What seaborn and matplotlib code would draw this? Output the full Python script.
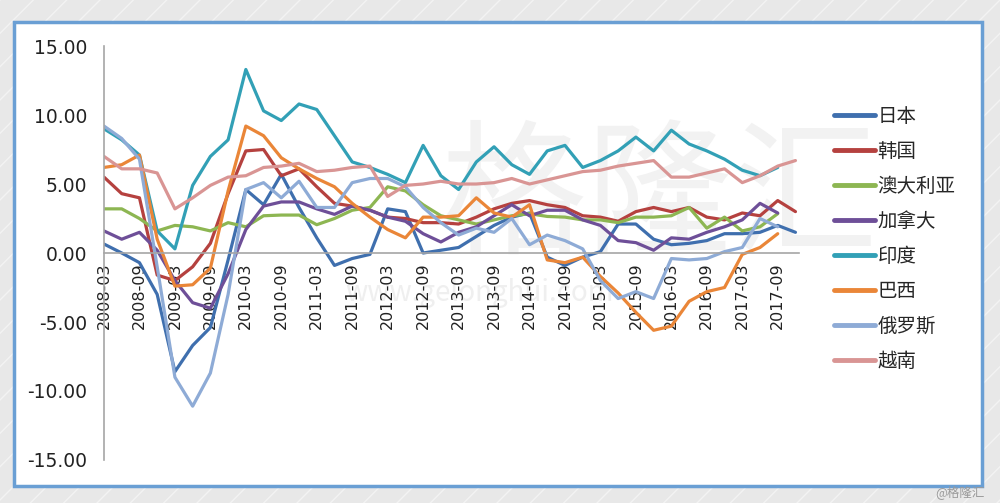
import numpy as np
import pandas as pd
import matplotlib
matplotlib.use("Agg")
import matplotlib.pyplot as plt
from matplotlib.patches import Rectangle
import seaborn as sns

nan = np.nan

quarters = [f"{y}-{m:02d}" for y in range(2008, 2018) for m in (3, 6, 9, 12)]
countries = ["日本", "韩国", "澳大利亚", "加拿大", "印度", "巴西", "俄罗斯", "越南"]
colors = ["#3f6fae", "#b5413f", "#8db652", "#6e4f98", "#32a0b6", "#ea8638", "#8eabd6", "#d99594"]

japan = [0.65, 0.0, -0.7, -3.0, -8.6, -6.7, -5.4, -0.5, 4.6, 3.5,
         5.7, 3.3, 1.1, -0.9, -0.4, -0.1, 3.2, 3.0, 0.0, 0.2,
         0.4, 1.2, 2.0, 2.6, 2.9, -0.3, -0.9, -0.3, 0.1, 2.1,
         2.1, 1.0, 0.6, 0.7, 0.9, 1.4, 1.4, 1.5, 2.0, 1.5]
korea = [5.5, 4.3, 4.0, -1.6, -2.0, -1.0, 0.7, 4.3, 7.4, 7.5,
         5.6, 6.1, 4.8, 3.6, 3.4, 3.1, 2.6, 2.5, 2.2, 2.2,
         2.1, 2.6, 3.2, 3.6, 3.8, 3.5, 3.3, 2.7, 2.6, 2.3,
         3.0, 3.3, 3.0, 3.3, 2.6, 2.4, 2.9, 2.7, 3.8, 3.0]
australia = [3.2, 3.2, 2.5, 1.6, 2.0, 1.9, 1.6, 2.2, 1.9, 2.7,
             2.75, 2.75, 2.05, 2.5, 3.1, 3.3, 4.8, 4.5, 3.5, 2.7,
             2.4, 2.1, 2.4, 2.7, 2.85, 2.65, 2.6, 2.4, 2.4, 2.2,
             2.6, 2.6, 2.7, 3.3, 1.8, 2.6, 1.6, 1.9, 2.85, nan]
canada = [1.6, 1.0, 1.5, 0.2, -2.0, -3.6, -4.0, -1.5, 1.7, 3.4,
          3.7, 3.7, 3.2, 2.8, 3.4, 3.1, 2.6, 2.3, 1.4, 0.8,
          1.5, 1.9, 2.7, 3.5, 2.7, 3.1, 3.1, 2.4, 2.0, 0.9,
          0.75, 0.2, 1.1, 1.0, 1.5, 1.9, 2.4, 3.6, 2.9, nan]
india = [9.0, 8.2, 7.1, 1.6, 0.3, 4.9, 7.0, 8.2, 13.3, 10.3,
         9.6, 10.8, 10.4, 8.5, 6.6, 6.2, 5.7, 5.1, 7.8, 5.6,
         4.6, 6.6, 7.7, 6.4, 5.7, 7.4, 7.8, 6.2, 6.7, 7.4,
         8.4, 7.4, 8.9, 7.9, 7.4, 6.8, 6.0, 5.6, 6.2, nan]
brazil = [6.2, 6.4, 7.1, 1.0, -2.4, -2.3, -1.1, 4.5, 9.2, 8.5,
          6.9, 6.1, 5.4, 4.8, 3.6, 2.6, 1.7, 1.1, 2.6, 2.6,
          2.7, 4.0, 2.9, 2.6, 3.5, -0.5, -0.7, -0.3, -1.7, -2.9,
          -4.3, -5.6, -5.3, -3.5, -2.8, -2.5, -0.1, 0.4, 1.4, nan]
russia = [9.2, 8.3, 6.8, -1.0, -9.0, -11.1, -8.7, -3.0, 4.6, 5.1,
          4.0, 5.2, 3.3, 3.3, 5.1, 5.4, 5.4, 4.8, 3.3, 2.2,
          1.3, 1.8, 1.5, 2.5, 0.6, 1.3, 0.9, 0.3, -2.0, -3.3,
          -2.8, -3.3, -0.4, -0.5, -0.4, 0.1, 0.4, 2.5, 1.9, nan]
vietnam = [7.0, 6.1, 6.1, 5.8, 3.2, 4.0, 4.9, 5.5, 5.6, 6.2,
           6.3, 6.5, 5.9, 6.0, 6.2, 6.3, 4.1, 4.9, 5.0, 5.2,
           5.0, 5.0, 5.1, 5.4, 5.0, 5.3, 5.6, 5.9, 6.0, 6.3,
           6.5, 6.7, 5.5, 5.5, 5.8, 6.1, 5.1, 5.6, 6.3, 6.7]

series = [japan, korea, australia, canada, india, brazil, russia, vietnam]

rows = []
for name, vals in zip(countries, series):
    for i, v in enumerate(vals):
        rows.append({"idx": i, "value": v, "country": name})
df = pd.DataFrame(rows).dropna()

sns.set_style("white")
plt.rcParams['font.family'] = ['Noto Sans CJK SC', 'DejaVu Sans']

fig = plt.figure(figsize=(10, 5.03), dpi=100)
fig.patch.set_facecolor("#e8e8e8")
fig.add_artist(Rectangle((0, 0), 1, 1, transform=fig.transFigure, facecolor="#e8e8e8",
                         edgecolor="#f3f3f3", hatch="/", lw=0, zorder=-10))
fig.add_artist(Rectangle((0.014, 0.034), 0.968, 0.922, transform=fig.transFigure,
                         facecolor="white", edgecolor="#6a9fd4", lw=2.5, zorder=-5))

# faint watermark
fig.text(0.66, 0.60, "格隆汇", fontsize=105, color="#f2f2f2", ha="center", va="center", zorder=-4)
fig.text(0.48, 0.417, "www.gelonghui.com", fontsize=20, color="#efefef", ha="center", va="center", zorder=-4)

ax = fig.add_axes([0.104, 0.0855, 0.695, 0.823])
ax.patch.set_alpha(0)

sns.lineplot(data=df, x="idx", y="value", hue="country", hue_order=countries,
             palette=colors, estimator=None, linewidth=2.3, ax=ax)

# move x axis to zero first (this resets tick label styles)
ax.spines['bottom'].set_position(('data', 0))

ax.set_xlim(0, 39.2)
ax.set_ylim(-15, 15)
ax.set_yticks(np.arange(-15, 16, 5))
ax.set_yticklabels([f"{v:.2f}" for v in np.arange(-15, 16, 5)], fontsize=13.5,
                   family="DejaVu Sans", color="#222222")
ax.set_xticks(range(0, 40, 2))
ax.set_xticklabels(quarters[::2], rotation=90, fontsize=11.5,
                   family="DejaVu Sans", color="#222222")
ax.set_xlabel("")
ax.set_ylabel("")

for s in ['top', 'right']:
    ax.spines[s].set_visible(False)
for s in ['bottom', 'left']:
    ax.spines[s].set_color("#a6a6a6")
    ax.spines[s].set_linewidth(1.2)
ax.tick_params(axis="both", direction="out", length=5, color="#a6a6a6", width=1.2)
ax.tick_params(axis="y", pad=7)
ax.tick_params(axis="x", pad=2)

handles, labels = ax.get_legend_handles_labels()
for h in handles:
    h.set_linewidth(3.5)
ax.legend(handles, labels, loc="upper left", bbox_to_anchor=(0.834, 0.79),
          bbox_transform=fig.transFigure, frameon=False, fontsize=14,
          handlelength=2.1, handletextpad=0.15, labelspacing=0.72,
          borderpad=0, borderaxespad=0)

fig.text(0.985, 0.022, "@格隆汇", fontsize=9, color="#9a9a9a", ha="right", va="center")

plt.savefig("out.png", dpi=100)
plt.close()
